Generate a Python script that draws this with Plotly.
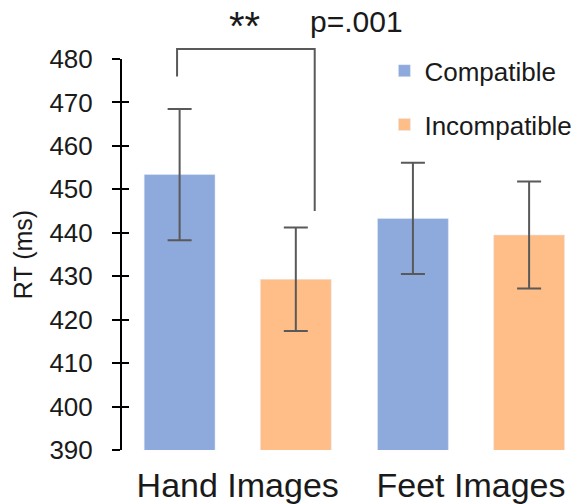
import plotly.graph_objects as go

categories = ["Hand Images", "Feet Images"]
compatible = [453.4, 443.3]
compatible_err = [15.1, 12.8]
incompatible = [429.3, 439.5]
incompatible_err = [11.9, 12.3]
y_ticks = [390, 400, 410, 420, 430, 440, 450, 460, 470, 480]

# significance bracket (data units)
bracket_left_x = -0.26
bracket_right_x = 0.33
bracket_top = 482.3
bracket_left_bottom = 476.0
bracket_right_bottom = 445.0

Y0, Y1 = 390, 480
X0, X1 = -0.496, 1.45


def ydom(v):
    return (v - Y0) / (Y1 - Y0)


BLUE = "#8EA9DB"
ORANGE = "#FFBE87"
ERR = "#595959"
TXT = "#1a1a1a"
FONT = "Liberation Sans, Arial, sans-serif"

fig = go.Figure()
fig.add_trace(go.Bar(
    name="Compatible", x=categories, y=compatible, marker_color=BLUE,
    legendgroup="a",
    error_y=dict(type="data", array=compatible_err, color=ERR, thickness=2, width=12),
))
fig.add_trace(go.Bar(
    name="Incompatible", x=categories, y=incompatible, marker_color=ORANGE,
    legendgroup="b",
    error_y=dict(type="data", array=incompatible_err, color=ERR, thickness=2, width=12),
))
# invisible trace on overlaying axis for inner tick marks
fig.add_trace(go.Scatter(x=[categories[0]], y=[None], yaxis="y2", showlegend=False,
                         hoverinfo="skip"))

fig.update_layout(
    width=576, height=504,
    margin=dict(l=122, r=0, t=59, b=54, autoexpand=False),
    paper_bgcolor="white", plot_bgcolor="white",
    barmode="group", bargap=0.004, bargroupgap=0.39,
    font=dict(family=FONT, color=TXT),
    showlegend=True,
    legend=dict(x=0.578, y=1.03, xanchor="left", yanchor="top",
                font=dict(size=26, family=FONT, color=TXT),
                bgcolor="rgba(0,0,0,0)", tracegroupgap=17, itemwidth=30),
    xaxis=dict(type="category", range=[X0, X1], showline=False, ticks="",
               showgrid=False, zeroline=False, automargin=False,
               tickfont=dict(size=34, family=FONT, color=TXT),
               ticklabelstandoff=12),
    yaxis=dict(range=[Y0, Y1], tickvals=y_ticks, showline=True, linecolor="black",
               linewidth=2, ticks="outside", ticklen=8, tickwidth=2, tickcolor="black",
               showgrid=False, zeroline=False, automargin=False,
               tickfont=dict(size=26, family=FONT, color=TXT),
               ticklabelstandoff=14,
               title=dict(text="RT (ms)", font=dict(size=25, family=FONT, color=TXT),
                          standoff=10)),
    yaxis2=dict(range=[Y0, Y1], tickvals=y_ticks, overlaying="y", side="left",
                anchor="x", showline=False, ticks="inside", ticklen=7, tickwidth=2,
                tickcolor="black", showticklabels=False, showgrid=False,
                zeroline=False, automargin=False),
)

# bracket
fig.add_shape(type="path", xref="x", yref="y domain",
              path=(f"M {bracket_left_x},{ydom(bracket_left_bottom)} "
                    f"L {bracket_left_x},{ydom(bracket_top)} "
                    f"L {bracket_right_x},{ydom(bracket_top)} "
                    f"L {bracket_right_x},{ydom(bracket_right_bottom)}"),
              line=dict(color=ERR, width=2))

fig.add_annotation(text="**", xref="x", yref="paper", x=0.03, y=1.085,
                   xanchor="center", yanchor="middle",
                   showarrow=False, font=dict(size=40, family=FONT, color=TXT))
fig.add_annotation(text="p=.001", xref="x", yref="paper", x=0.508, y=1.095,
                   xanchor="center", yanchor="middle",
                   showarrow=False, font=dict(size=30, family=FONT, color=TXT))

fig.write_html("out.html", post_script="document.body.style.margin='0';",
               config={"displayModeBar": False})
